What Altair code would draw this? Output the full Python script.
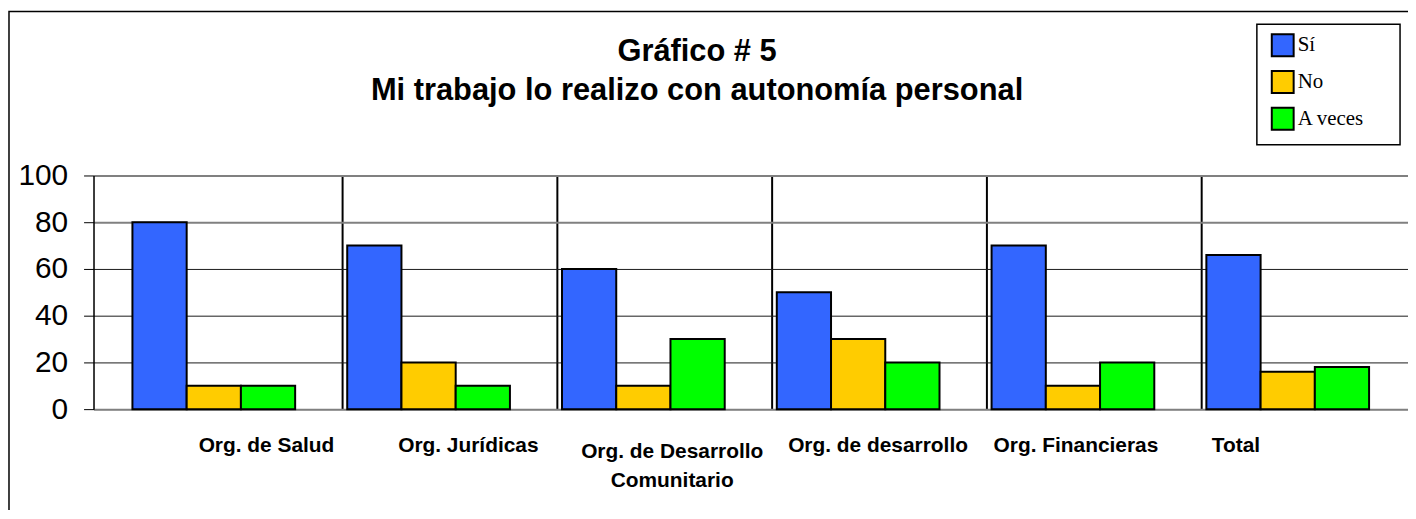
import altair as alt
import pandas as pd

categories = ["Org. de Salud", "Org. Jurídicas", "Org. de Desarrollo Comunitario",
              "Org. de desarrollo", "Org. Financieras", "Total"]
series = ["Sí", "No", "A veces"]
si = [80, 70, 60, 50, 70, 66]
no = [10, 20, 10, 30, 10, 16]
a_veces = [10, 10, 30, 20, 20, 18]
colors = ["#3366FF", "#FFCC00", "#00FF00"]
title_lines = ["Gráfico # 5", "Mi trabajo lo realizo con autonomía personal"]

rows = []
for i, c in enumerate(categories):
    for s, vals in zip(series, [si, no, a_veces]):
        rows.append({"cat": c, "serie": s, "valor": vals[i]})
df = pd.DataFrame(rows)

label_offsets = [53, 40, 29, 20, 3, -52]
offset_conds = [{"test": f"datum.value === '{c}'", "value": o}
                for c, o in zip(categories[:-1], label_offsets[:-1])]

W, H = 1322, 235

bars = alt.Chart(df).mark_bar(stroke="black", strokeWidth=2).encode(
    x=alt.X("cat:N", sort=categories,
            scale=alt.Scale(paddingInner=0, paddingOuter=0.06),
            axis=alt.Axis(
                title=None, bandPosition=0.1, ticks=False, tickSize=0,
                domainColor="#808080", domainWidth=2,
                grid=True, gridWidth=2,
                gridColor={"condition": {"test": "datum.value === 'Org. de Salud'", "value": "transparent"},
                           "value": "black"},
                labelFont="Liberation Sans", labelFontWeight="bold", labelFontSize=21,
                labelColor="black", labelAngle=0, labelLimit=0,
                labelBaseline="top", labelLineHeight=29,
                labelPadding={"condition": {"test": "datum.value === 'Org. de Desarrollo Comunitario'", "value": 32},
                              "value": 26},
                labelExpr="datum.label == 'Org. de Desarrollo Comunitario' ? ['Org. de Desarrollo', 'Comunitario'] : datum.label",
                labelOffset={"condition": offset_conds, "value": label_offsets[-1]},
            )),
    xOffset=alt.XOffset("serie:N", sort=series,
                        scale=alt.Scale(paddingInner=0, paddingOuter=0.48)),
    y=alt.Y("valor:Q", scale=alt.Scale(domain=[0, 100]),
            axis=alt.Axis(
                title=None, values=[0, 20, 40, 60, 80, 100],
                labelFont="Liberation Sans", labelFontSize=30, labelColor="black",
                labelPadding=16, tickSize=10, tickColor="black", tickWidth=1,
                domainColor="black", domainWidth=1.5,
                grid=True,
                gridColor={"condition": {"test": "datum.value >= 80 || datum.value == 0", "value": "#808080"},
                           "value": "#1a1a1a"},
                gridWidth={"condition": {"test": "datum.value >= 80", "value": 2}, "value": 1},
            )),
    fill=alt.Fill("serie:N", sort=series,
                  scale=alt.Scale(domain=series, range=colors),
                  legend=alt.Legend(
                      title=None, orient="none", legendX=1184, legendY=-143,
                      symbolType="square", symbolSize=484, symbolStrokeColor="black",
                      symbolStrokeWidth=2, symbolOpacity=1,
                      labelFont="Liberation Serif", labelFontSize=21, labelColor="black",
                      labelOffset=3, rowPadding=7, padding=0,
                  )),
)

one = pd.DataFrame({"k": [0]})
legend_box = alt.Chart(one).mark_rect(fill=None, stroke="black", strokeWidth=1.5).encode(
    x=alt.value(1170), x2=alt.value(1314), y=alt.value(-152), y2=alt.value(-31)
)
frame = alt.Chart(one).mark_rect(fill=None, stroke="black", strokeWidth=1.5).encode(
    x=alt.value(-85), x2=alt.value(W + 20), y=alt.value(-165), y2=alt.value(H + 200)
)

chart = alt.layer(frame, bars, legend_box).properties(
    width=W, height=H,
    padding={"left": 86, "top": 167, "right": 0, "bottom": 100},
    autosize=alt.AutoSizeParams(type="none"),
    title=alt.TitleParams(
        text=title_lines, font="Liberation Sans", fontSize=31, fontWeight="bold",
        color="black", anchor="middle", dx=-54, lineHeight=39, dy=101,
    ),
).configure_view(stroke=None).configure(background="white")

chart.save("out.html", embed_options={"renderer": "svg", "actions": False})
